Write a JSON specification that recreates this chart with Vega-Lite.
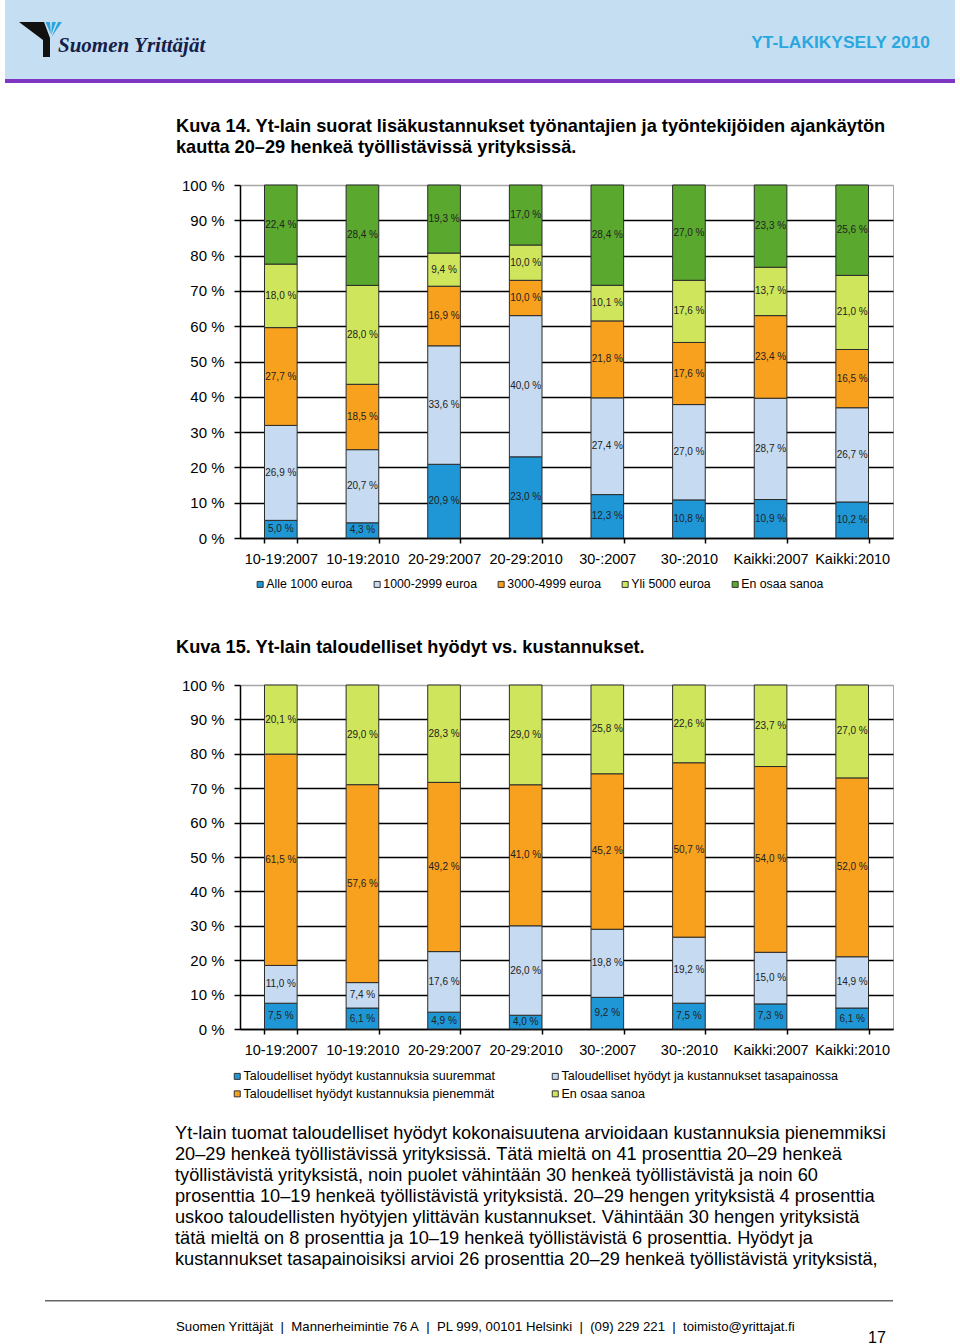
{
  "$schema": "https://vega.github.io/schema/vega-lite/v6.json",
  "background": "white",
  "padding": {"left": 5, "right": 5, "top": 0, "bottom": 0},
  "autosize": {"type": "pad"},
  "columns": 3,
  "bounds": "flush",
  "align": "each",
  "spacing": 0,
  "resolve": {"scale": {"color": "independent"}, "legend": {"color": "independent"}},
  "config": {
    "font": "Liberation Sans",
    "view": {"stroke": null},
    "title": {"font": "Liberation Sans", "color": "#000"},
    "axis": {"labelFont": "Liberation Sans"},
    "legend": {"labelFont": "Liberation Sans"}
  },
  "datasets": {
    "kuva14": [
      {"g": "10-19:2007", "k": "Alle 1000 euroa", "v": 5.0},
      {"g": "10-19:2007", "k": "1000-2999 euroa", "v": 26.9},
      {"g": "10-19:2007", "k": "3000-4999 euroa", "v": 27.7},
      {"g": "10-19:2007", "k": "Yli 5000 euroa", "v": 18.0},
      {"g": "10-19:2007", "k": "En osaa sanoa", "v": 22.4},
      {"g": "10-19:2010", "k": "Alle 1000 euroa", "v": 4.3},
      {"g": "10-19:2010", "k": "1000-2999 euroa", "v": 20.7},
      {"g": "10-19:2010", "k": "3000-4999 euroa", "v": 18.5},
      {"g": "10-19:2010", "k": "Yli 5000 euroa", "v": 28.0},
      {"g": "10-19:2010", "k": "En osaa sanoa", "v": 28.4},
      {"g": "20-29:2007", "k": "Alle 1000 euroa", "v": 20.9},
      {"g": "20-29:2007", "k": "1000-2999 euroa", "v": 33.6},
      {"g": "20-29:2007", "k": "3000-4999 euroa", "v": 16.9},
      {"g": "20-29:2007", "k": "Yli 5000 euroa", "v": 9.4},
      {"g": "20-29:2007", "k": "En osaa sanoa", "v": 19.3},
      {"g": "20-29:2010", "k": "Alle 1000 euroa", "v": 23.0},
      {"g": "20-29:2010", "k": "1000-2999 euroa", "v": 40.0},
      {"g": "20-29:2010", "k": "3000-4999 euroa", "v": 10.0},
      {"g": "20-29:2010", "k": "Yli 5000 euroa", "v": 10.0},
      {"g": "20-29:2010", "k": "En osaa sanoa", "v": 17.0},
      {"g": "30-:2007", "k": "Alle 1000 euroa", "v": 12.3},
      {"g": "30-:2007", "k": "1000-2999 euroa", "v": 27.4},
      {"g": "30-:2007", "k": "3000-4999 euroa", "v": 21.8},
      {"g": "30-:2007", "k": "Yli 5000 euroa", "v": 10.1},
      {"g": "30-:2007", "k": "En osaa sanoa", "v": 28.4},
      {"g": "30-:2010", "k": "Alle 1000 euroa", "v": 10.8},
      {"g": "30-:2010", "k": "1000-2999 euroa", "v": 27.0},
      {"g": "30-:2010", "k": "3000-4999 euroa", "v": 17.6},
      {"g": "30-:2010", "k": "Yli 5000 euroa", "v": 17.6},
      {"g": "30-:2010", "k": "En osaa sanoa", "v": 27.0},
      {"g": "Kaikki:2007", "k": "Alle 1000 euroa", "v": 10.9},
      {"g": "Kaikki:2007", "k": "1000-2999 euroa", "v": 28.7},
      {"g": "Kaikki:2007", "k": "3000-4999 euroa", "v": 23.4},
      {"g": "Kaikki:2007", "k": "Yli 5000 euroa", "v": 13.7},
      {"g": "Kaikki:2007", "k": "En osaa sanoa", "v": 23.3},
      {"g": "Kaikki:2010", "k": "Alle 1000 euroa", "v": 10.2},
      {"g": "Kaikki:2010", "k": "1000-2999 euroa", "v": 26.7},
      {"g": "Kaikki:2010", "k": "3000-4999 euroa", "v": 16.5},
      {"g": "Kaikki:2010", "k": "Yli 5000 euroa", "v": 21.0},
      {"g": "Kaikki:2010", "k": "En osaa sanoa", "v": 25.6}
    ],
    "kuva15": [
      {"g": "10-19:2007", "k": "Taloudelliset hyödyt kustannuksia suuremmat", "v": 7.5},
      {"g": "10-19:2007", "k": "Taloudelliset hyödyt ja kustannukset tasapainossa", "v": 11.0},
      {"g": "10-19:2007", "k": "Taloudelliset hyödyt kustannuksia pienemmät", "v": 61.5},
      {"g": "10-19:2007", "k": "En osaa sanoa", "v": 20.1},
      {"g": "10-19:2010", "k": "Taloudelliset hyödyt kustannuksia suuremmat", "v": 6.1},
      {"g": "10-19:2010", "k": "Taloudelliset hyödyt ja kustannukset tasapainossa", "v": 7.4},
      {"g": "10-19:2010", "k": "Taloudelliset hyödyt kustannuksia pienemmät", "v": 57.6},
      {"g": "10-19:2010", "k": "En osaa sanoa", "v": 29.0},
      {"g": "20-29:2007", "k": "Taloudelliset hyödyt kustannuksia suuremmat", "v": 4.9},
      {"g": "20-29:2007", "k": "Taloudelliset hyödyt ja kustannukset tasapainossa", "v": 17.6},
      {"g": "20-29:2007", "k": "Taloudelliset hyödyt kustannuksia pienemmät", "v": 49.2},
      {"g": "20-29:2007", "k": "En osaa sanoa", "v": 28.3},
      {"g": "20-29:2010", "k": "Taloudelliset hyödyt kustannuksia suuremmat", "v": 4.0},
      {"g": "20-29:2010", "k": "Taloudelliset hyödyt ja kustannukset tasapainossa", "v": 26.0},
      {"g": "20-29:2010", "k": "Taloudelliset hyödyt kustannuksia pienemmät", "v": 41.0},
      {"g": "20-29:2010", "k": "En osaa sanoa", "v": 29.0},
      {"g": "30-:2007", "k": "Taloudelliset hyödyt kustannuksia suuremmat", "v": 9.2},
      {"g": "30-:2007", "k": "Taloudelliset hyödyt ja kustannukset tasapainossa", "v": 19.8},
      {"g": "30-:2007", "k": "Taloudelliset hyödyt kustannuksia pienemmät", "v": 45.2},
      {"g": "30-:2007", "k": "En osaa sanoa", "v": 25.8},
      {"g": "30-:2010", "k": "Taloudelliset hyödyt kustannuksia suuremmat", "v": 7.5},
      {"g": "30-:2010", "k": "Taloudelliset hyödyt ja kustannukset tasapainossa", "v": 19.2},
      {"g": "30-:2010", "k": "Taloudelliset hyödyt kustannuksia pienemmät", "v": 50.7},
      {"g": "30-:2010", "k": "En osaa sanoa", "v": 22.6},
      {"g": "Kaikki:2007", "k": "Taloudelliset hyödyt kustannuksia suuremmat", "v": 7.3},
      {"g": "Kaikki:2007", "k": "Taloudelliset hyödyt ja kustannukset tasapainossa", "v": 15.0},
      {"g": "Kaikki:2007", "k": "Taloudelliset hyödyt kustannuksia pienemmät", "v": 54.0},
      {"g": "Kaikki:2007", "k": "En osaa sanoa", "v": 23.7},
      {"g": "Kaikki:2010", "k": "Taloudelliset hyödyt kustannuksia suuremmat", "v": 6.1},
      {"g": "Kaikki:2010", "k": "Taloudelliset hyödyt ja kustannukset tasapainossa", "v": 14.9},
      {"g": "Kaikki:2010", "k": "Taloudelliset hyödyt kustannuksia pienemmät", "v": 52.0},
      {"g": "Kaikki:2010", "k": "En osaa sanoa", "v": 27.0}
    ]
  },
  "concat": [
    {
      "width": 40, "height": 79,
      "view": {"fill": "#c6def1", "stroke": null},
      "data": {"values": []}, "mark": "rect", "encoding": {}
    },
    {
      "width": 195, "height": 79,
      "view": {"fill": "#c6def1", "stroke": null},
      "title": {"text": "Suomen Yrittäjät", "anchor": "start", "frame": "group", "orient": "top", "offset": -73, "dx": 13, "baseline": "alphabetic", "font": "Liberation Serif", "fontSize": 21, "fontStyle": "italic", "fontWeight": "bold", "color": "#14204a"},
      "data": {"values": [{"logo": "Suomen Yrittäjät"}]},
      "layer": [
        {"mark": {"type": "point", "shape": "M-12.35,-1.75L-9.85,-1.75L-9.25,-0.15L-9.25,1.75L-9.95,1.75L-9.95,0.05Z", "filled": true, "color": "#111111", "opacity": 1, "strokeWidth": 0, "size": 400}, "encoding": {}},
        {"mark": {"type": "point", "shape": "M-9.7,-1.75L-9.25,-1.75L-9.17,-0.55ZM-9.05,-1.75L-8.65,-1.75L-9.13,-0.45ZM-8.45,-1.75L-8.05,-1.75L-9.1,-0.25Z", "filled": true, "color": "#2aa6dd", "opacity": 1, "strokeWidth": 0, "size": 400}, "encoding": {}}
      ]
    },
    {
      "width": 715, "height": 79,
      "view": {"fill": "#c6def1", "stroke": null},
      "data": {"values": []}, "mark": "rect", "encoding": {},
      "title": {"text": "YT-LAKIKYSELY 2010", "anchor": "end", "frame": "group", "orient": "top", "offset": -65, "dx": -25, "baseline": "alphabetic", "fontSize": 17.4, "fontWeight": "bold", "color": "#2ba7df"}
    },
    {"width": 40, "height": 4, "view": {"fill": "#7e36c3", "stroke": null}, "data": {"values": []}, "mark": "rect", "encoding": {}},
    {"width": 195, "height": 4, "view": {"fill": "#7e36c3", "stroke": null}, "data": {"values": []}, "mark": "rect", "encoding": {}},
    {"width": 715, "height": 4, "view": {"fill": "#7e36c3", "stroke": null}, "data": {"values": []}, "mark": "rect", "encoding": {}},
    {"width": 40, "height": 102, "data": {"values": []}, "mark": "rect", "encoding": {}},
    {"width": 195, "height": 102, "data": {"values": []}, "mark": "rect", "encoding": {}},
    {"width": 715, "height": 102, "data": {"values": []}, "mark": "rect", "encoding": {}},
    {"width": 40, "height": 353, "data": {"values": []}, "mark": "rect", "encoding": {}},
    {"width": 195, "height": 353, "data": {"values": []}, "mark": "rect", "encoding": {}},
    {
      "width": 653, "height": 353,
      "view": {"stroke": "#a6a6a6", "strokeWidth": 1},
      "title": {"text": ["Kuva 14. Yt-lain suorat lisäkustannukset työnantajien ja työntekijöiden ajankäytön", "kautta 20–29 henkeä työllistävissä yrityksissä."], "anchor": "start", "frame": "group", "dx": -64, "offset": 21, "fontSize": 18.2, "fontWeight": "bold", "lineHeight": 21, "color": "#000"},
      "data": {"name": "kuva14"},
      "transform": [
        {"calculate": "indexof(['Alle 1000 euroa','1000-2999 euroa','3000-4999 euroa','Yli 5000 euroa','En osaa sanoa'], datum.k)", "as": "ord"},
        {"stack": "v", "groupby": ["g"], "sort": [{"field": "ord", "order": "ascending"}], "offset": "normalize", "as": ["v0", "v1"]},
        {"calculate": "(datum.v0 + datum.v1) / 2", "as": "vm"},
        {"calculate": "replace(format(datum.v, '.1f'), '.', ',') + ' %'", "as": "lab"}
      ],
      "encoding": {
        "x": {
          "field": "g", "type": "nominal",
          "sort": ["10-19:2007", "10-19:2010", "20-29:2007", "20-29:2010", "30-:2007", "30-:2010", "Kaikki:2007", "Kaikki:2010"],
          "scale": {"paddingInner": 0.6, "paddingOuter": 0.3},
          "axis": {"title": null, "labelAngle": 0, "labelFontSize": 14.5, "labelColor": "#000", "labelPadding": 9, "tickBand": "extent", "tickSize": 5, "tickColor": "#000", "tickWidth": 1.5, "domainColor": "#000", "domainWidth": 1.5, "grid": false}
        }
      },
      "layer": [
        {
          "mark": {"type": "bar", "stroke": "#2b2b2b", "strokeWidth": 1},
          "encoding": {
            "y": {
              "field": "v0", "type": "quantitative",
              "scale": {"domain": [0, 1], "nice": false},
              "axis": {"title": null, "values": [0, 0.1, 0.2, 0.3, 0.4, 0.5, 0.6, 0.7, 0.8, 0.9, 1], "labelExpr": "round(datum.value * 100) + ' %'", "labelFontSize": 15, "labelColor": "#000", "labelPadding": 10, "tickSize": 6, "tickColor": "#000", "tickWidth": 1.5, "domainColor": "#000", "domainWidth": 1.5, "grid": true, "gridColor": {"condition": {"test": "datum.value >= 0.99", "value": "#a6a6a6"}, "value": "#000"}, "gridWidth": 1.3}
            },
            "y2": {"field": "v1"},
            "color": {
              "field": "k", "type": "nominal",
              "scale": {"domain": ["Alle 1000 euroa", "1000-2999 euroa", "3000-4999 euroa", "Yli 5000 euroa", "En osaa sanoa"], "range": ["#1f97d6", "#c6dbf1", "#f8a11e", "#cfe65c", "#5aa92e"]},
              "legend": {"title": null, "orient": "none", "legendX": 14, "legendY": 393, "direction": "horizontal", "columns": 5, "columnPadding": 18, "symbolType": "square", "symbolSize": 36, "symbolStrokeColor": "#333", "symbolStrokeWidth": 1, "labelFontSize": 12.3, "labelColor": "#000", "labelOffset": 0, "labelLimit": 0, "padding": 0}
            }
          }
        },
        {
          "mark": {"type": "text", "fontSize": 10, "color": "#222"},
          "encoding": {
            "y": {
              "field": "vm", "type": "quantitative",
              "axis": {"title": null, "values": [0, 0.1, 0.2, 0.3, 0.4, 0.5, 0.6, 0.7, 0.8, 0.9, 1], "labelExpr": "round(datum.value * 100) + ' %'", "labelFontSize": 15, "labelColor": "#000", "labelPadding": 10, "tickSize": 6, "tickColor": "#000", "tickWidth": 1.5, "domainColor": "#000", "domainWidth": 1.5, "grid": true, "gridColor": {"condition": {"test": "datum.value >= 0.99", "value": "#a6a6a6"}, "value": "#000"}, "gridWidth": 1.3}
            },
            "text": {"field": "lab"}
          }
        }
      ]
    },
    {"width": 40, "height": 147, "data": {"values": []}, "mark": "rect", "encoding": {}},
    {"width": 195, "height": 147, "data": {"values": []}, "mark": "rect", "encoding": {}},
    {"width": 715, "height": 147, "data": {"values": []}, "mark": "rect", "encoding": {}},
    {"width": 40, "height": 344, "data": {"values": []}, "mark": "rect", "encoding": {}},
    {"width": 195, "height": 344, "data": {"values": []}, "mark": "rect", "encoding": {}},
    {
      "width": 653, "height": 344,
      "view": {"stroke": "#a6a6a6", "strokeWidth": 1},
      "title": {"text": "Kuva 15. Yt-lain taloudelliset hyödyt vs. kustannukset.", "anchor": "start", "frame": "group", "dx": -64, "offset": 21, "fontSize": 18.2, "fontWeight": "bold", "color": "#000"},
      "data": {"name": "kuva15"},
      "transform": [
        {"calculate": "indexof(['Taloudelliset hyödyt kustannuksia suuremmat','Taloudelliset hyödyt ja kustannukset tasapainossa','Taloudelliset hyödyt kustannuksia pienemmät','En osaa sanoa'], datum.k)", "as": "ord"},
        {"stack": "v", "groupby": ["g"], "sort": [{"field": "ord", "order": "ascending"}], "offset": "normalize", "as": ["v0", "v1"]},
        {"calculate": "(datum.v0 + datum.v1) / 2", "as": "vm"},
        {"calculate": "replace(format(datum.v, '.1f'), '.', ',') + ' %'", "as": "lab"}
      ],
      "encoding": {
        "x": {
          "field": "g", "type": "nominal",
          "sort": ["10-19:2007", "10-19:2010", "20-29:2007", "20-29:2010", "30-:2007", "30-:2010", "Kaikki:2007", "Kaikki:2010"],
          "scale": {"paddingInner": 0.6, "paddingOuter": 0.3},
          "axis": {"title": null, "labelAngle": 0, "labelFontSize": 14.5, "labelColor": "#000", "labelPadding": 9, "tickBand": "extent", "tickSize": 5, "tickColor": "#000", "tickWidth": 1.5, "domainColor": "#000", "domainWidth": 1.5, "grid": false}
        }
      },
      "layer": [
        {
          "mark": {"type": "bar", "stroke": "#2b2b2b", "strokeWidth": 1},
          "encoding": {
            "y": {
              "field": "v0", "type": "quantitative",
              "scale": {"domain": [0, 1], "nice": false},
              "axis": {"title": null, "values": [0, 0.1, 0.2, 0.3, 0.4, 0.5, 0.6, 0.7, 0.8, 0.9, 1], "labelExpr": "round(datum.value * 100) + ' %'", "labelFontSize": 15, "labelColor": "#000", "labelPadding": 10, "tickSize": 6, "tickColor": "#000", "tickWidth": 1.5, "domainColor": "#000", "domainWidth": 1.5, "grid": true, "gridColor": {"condition": {"test": "datum.value >= 0.99", "value": "#a6a6a6"}, "value": "#000"}, "gridWidth": 1.3}
            },
            "y2": {"field": "v1"},
            "color": {
              "field": "k", "type": "nominal",
              "scale": {"domain": ["Taloudelliset hyödyt kustannuksia suuremmat", "Taloudelliset hyödyt ja kustannukset tasapainossa", "Taloudelliset hyödyt kustannuksia pienemmät", "En osaa sanoa"], "range": ["#1f97d6", "#c6dbf1", "#f8a11e", "#cfe65c"]},
              "legend": {"title": null, "orient": "none", "legendX": -9, "legendY": 385, "direction": "horizontal", "columns": 2, "columnPadding": 53, "rowPadding": 4.6, "symbolType": "square", "symbolSize": 36, "symbolStrokeColor": "#333", "symbolStrokeWidth": 1, "labelFontSize": 12.5, "labelColor": "#000", "labelOffset": 0, "labelLimit": 0, "padding": 0}
            }
          }
        },
        {
          "mark": {"type": "text", "fontSize": 10, "color": "#222"},
          "encoding": {
            "y": {
              "field": "vm", "type": "quantitative",
              "axis": {"title": null, "values": [0, 0.1, 0.2, 0.3, 0.4, 0.5, 0.6, 0.7, 0.8, 0.9, 1], "labelExpr": "round(datum.value * 100) + ' %'", "labelFontSize": 15, "labelColor": "#000", "labelPadding": 10, "tickSize": 6, "tickColor": "#000", "tickWidth": 1.5, "domainColor": "#000", "domainWidth": 1.5, "grid": true, "gridColor": {"condition": {"test": "datum.value >= 0.99", "value": "#a6a6a6"}, "value": "#000"}, "gridWidth": 1.3}
            },
            "text": {"field": "lab"}
          }
        }
      ]
    },
    {"width": 40, "height": 271, "data": {"values": []}, "mark": "rect", "encoding": {}},
    {"width": 195, "height": 271, "data": {"values": []}, "mark": "rect", "encoding": {}},
    {"width": 715, "height": 271, "data": {"values": []}, "mark": "rect", "encoding": {}},
    {
      "width": 40, "height": 1.5,
      "data": {"values": []}, "mark": "rect", "encoding": {},
      "title": {"text": "17", "anchor": "start", "frame": "group", "orient": "bottom", "offset": 28, "dx": 863, "fontSize": 16, "fontWeight": "normal", "color": "#000"}
    },
    {
      "width": 195, "height": 1.5,
      "view": {"fill": "#666666", "stroke": null},
      "data": {"values": []}, "mark": "rect", "encoding": {},
      "title": {
        "text": [
          "Yt-lain tuomat taloudelliset hyödyt kokonaisuutena arvioidaan kustannuksia pienemmiksi",
          "20–29 henkeä työllistävissä yrityksissä. Tätä mieltä on 41 prosenttia 20–29 henkeä",
          "työllistävistä yrityksistä, noin puolet vähintään 30 henkeä työllistävistä ja noin 60",
          "prosenttia 10–19 henkeä työllistävistä yrityksistä. 20–29 hengen yrityksistä 4 prosenttia",
          "uskoo taloudellisten hyötyjen ylittävän kustannukset. Vähintään 30 hengen yrityksistä",
          "tätä mieltä on 8 prosenttia ja 10–19 henkeä työllistävistä 6 prosenttia. Hyödyt ja",
          "kustannukset tasapainoisiksi arvioi 26 prosenttia 20–29 henkeä työllistävistä yrityksistä,"
        ],
        "anchor": "start", "frame": "group", "orient": "top", "dx": 130, "offset": 31, "fontSize": 18.2, "fontWeight": "normal", "lineHeight": 21, "color": "#000"
      }
    },
    {
      "width": 653, "height": 1.5,
      "view": {"fill": "#666666", "stroke": null},
      "data": {"values": []}, "mark": "rect", "encoding": {},
      "title": {"text": "Suomen Yrittäjät\u00a0\u00a0|\u00a0\u00a0Mannerheimintie 76 A\u00a0\u00a0|\u00a0\u00a0PL 999, 00101 Helsinki\u00a0\u00a0|\u00a0\u00a0(09) 229 221\u00a0\u00a0|\u00a0\u00a0toimisto@yrittajat.fi", "anchor": "start", "frame": "group", "orient": "bottom", "offset": 19, "dx": -64, "fontSize": 13.2, "fontWeight": "normal", "color": "#000"}
    }
  ]
}
